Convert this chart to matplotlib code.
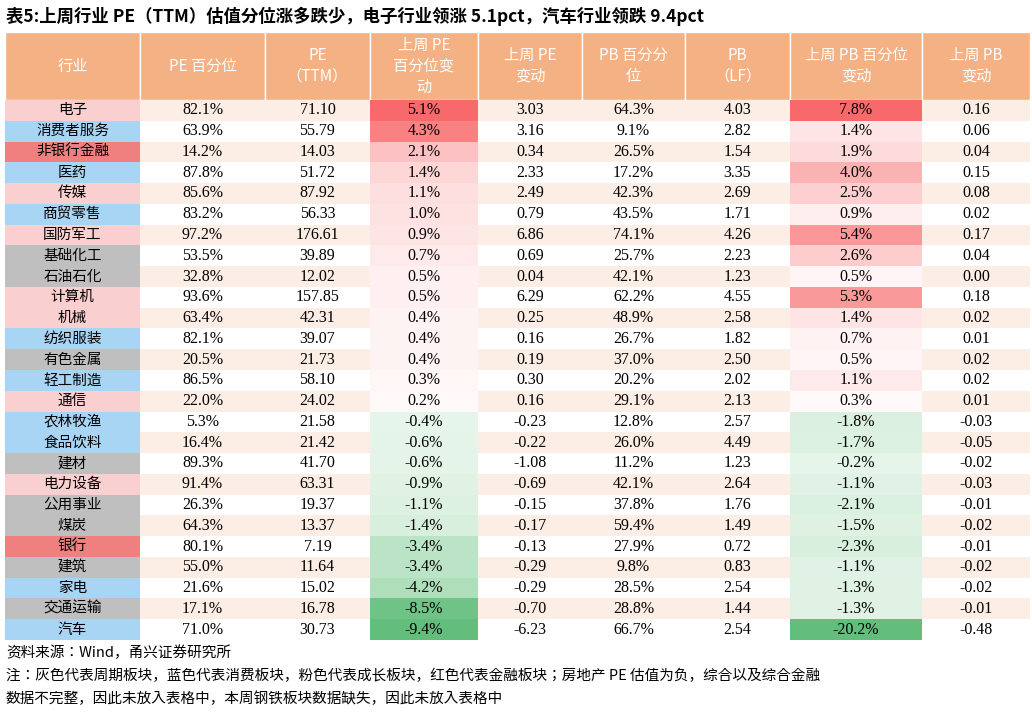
import matplotlib.pyplot as plt
from matplotlib.patches import Rectangle
import numpy as np

industries = ["电子", "消费者服务", "非银行金融", "医药", "传媒", "商贸零售", "国防军工", "基础化工",
              "石油石化", "计算机", "机械", "纺织服装", "有色金属", "轻工制造", "通信", "农林牧渔",
              "食品饮料", "建材", "电力设备", "公用事业", "煤炭", "银行", "建筑", "家电", "交通运输", "汽车"]
groups = ["p", "b", "r", "b", "p", "b", "p", "g", "g", "p", "p", "b", "g", "b", "p", "b",
          "b", "g", "p", "g", "g", "r", "g", "b", "g", "b"]
pe_pct = [82.1, 63.9, 14.2, 87.8, 85.6, 83.2, 97.2, 53.5, 32.8, 93.6, 63.4, 82.1, 20.5, 86.5, 22.0, 5.3,
          16.4, 89.3, 91.4, 26.3, 64.3, 80.1, 55.0, 21.6, 17.1, 71.0]
pe_ttm = [71.10, 55.79, 14.03, 51.72, 87.92, 56.33, 176.61, 39.89, 12.02, 157.85, 42.31, 39.07, 21.73,
          58.10, 24.02, 21.58, 21.42, 41.70, 63.31, 19.37, 13.37, 7.19, 11.64, 15.02, 16.78, 30.73]
pe_pct_chg = [5.1, 4.3, 2.1, 1.4, 1.1, 1.0, 0.9, 0.7, 0.5, 0.5, 0.4, 0.4, 0.4, 0.3, 0.2, -0.4,
              -0.6, -0.6, -0.9, -1.1, -1.4, -3.4, -3.4, -4.2, -8.5, -9.4]
pe_chg = [3.03, 3.16, 0.34, 2.33, 2.49, 0.79, 6.86, 0.69, 0.04, 6.29, 0.25, 0.16, 0.19, 0.30, 0.16, -0.23,
          -0.22, -1.08, -0.69, -0.15, -0.17, -0.13, -0.29, -0.29, -0.70, -6.23]
pb_pct = [64.3, 9.1, 26.5, 17.2, 42.3, 43.5, 74.1, 25.7, 42.1, 62.2, 48.9, 26.7, 37.0, 20.2, 29.1, 12.8,
          26.0, 11.2, 42.1, 37.8, 59.4, 27.9, 9.8, 28.5, 28.8, 66.7]
pb_lf = [4.03, 2.82, 1.54, 3.35, 2.69, 1.71, 4.26, 2.23, 1.23, 4.55, 2.58, 1.82, 2.50, 2.02, 2.13, 2.57,
         4.49, 1.23, 2.64, 1.76, 1.49, 0.72, 0.83, 2.54, 1.44, 2.54]
pb_pct_chg = [7.8, 1.4, 1.9, 4.0, 2.5, 0.9, 5.4, 2.6, 0.5, 5.3, 1.4, 0.7, 0.5, 1.1, 0.3, -1.8,
              -1.7, -0.2, -1.1, -2.1, -1.5, -2.3, -1.1, -1.3, -1.3, -20.2]
pb_chg = [0.16, 0.06, 0.04, 0.15, 0.08, 0.02, 0.17, 0.04, 0.00, 0.18, 0.02, 0.01, 0.02, 0.02, 0.01, -0.03,
          -0.05, -0.02, -0.03, -0.01, -0.02, -0.01, -0.02, -0.02, -0.01, -0.48]
headers = ["行业", "PE 百分位", "PE\n（TTM）", "上周 PE\n百分位变\n动", "上周 PE\n变动",
           "PB 百分分\n位", "PB\n（LF）", "上周 PB 百分位\n变动", "上周 PB\n变动"]

CJK = ["Noto Sans CJK SC", "Noto Sans CJK JP", "Noto Sans CJK TC", "DejaVu Sans"]
SERIF = "Liberation Serif"
group_colors = {"p": "#F9CFCF", "b": "#A9D5F5", "r": "#F07F7F", "g": "#BFBFBF"}

xs = [5, 140, 265, 370, 478, 582, 685, 790, 922, 1030]
top, head_bot, bot = 32, 100, 640
rh = (bot - head_bot) / len(industries)

def heat(v, vmax, vmin):
    if v >= 0:
        t = v / vmax
        c = np.array([248, 105, 107]) / 255
    else:
        t = min(1, 0.12 + 0.88 * v / vmin) if vmin > -15 else min(1, 0.15 + 0.85 * v / vmin)
        c = np.array([99, 190, 123]) / 255
    return tuple(1 - t * (1 - c))

fig = plt.figure(figsize=(10.32, 7.13), dpi=100)
ax = fig.add_axes([0, 0, 1, 1])
ax.set_xlim(0, 1032)
ax.set_ylim(713, 0)
ax.axis("off")

ax.text(6, 16, "表5:上周行业 PE（TTM）估值分位涨多跌少，电子行业领涨 5.1pct，汽车行业领跌 9.4pct",
        fontfamily=CJK, fontweight="bold", fontsize=12.5, va="center", ha="left")

# header
for i, h in enumerate(headers):
    ax.add_patch(Rectangle((xs[i], top), xs[i + 1] - xs[i], head_bot - top,
                           fc="#F4B183", ec="white", lw=1))
    ax.text((xs[i] + xs[i + 1]) / 2, (top + head_bot) / 2, h, color="white", fontfamily=CJK,
            fontsize=11, ha="center", va="center", linespacing=1.3)

for r, name in enumerate(industries):
    y0 = head_bot + r * rh
    yc = y0 + rh / 2
    bg = "#FCEDE5" if r % 2 == 0 else "white"
    ax.add_patch(Rectangle((xs[0], y0), xs[-1] - xs[0], rh, fc=bg, ec="none"))
    ax.add_patch(Rectangle((xs[0], y0), xs[1] - xs[0], rh, fc=group_colors[groups[r]], ec="none"))
    ax.add_patch(Rectangle((xs[3], y0), xs[4] - xs[3], rh, fc=heat(pe_pct_chg[r], 5.1, -9.4), ec="none"))
    ax.add_patch(Rectangle((xs[7], y0), xs[8] - xs[7], rh, fc=heat(pb_pct_chg[r], 7.8, -20.2), ec="none"))
    ax.text((xs[0] + xs[1]) / 2, yc, name, fontfamily=CJK, fontsize=10.5, ha="center", va="center")
    vals = [f"{pe_pct[r]:.1f}%", f"{pe_ttm[r]:.2f}", f"{pe_pct_chg[r]:.1f}%", f"{pe_chg[r]:.2f}",
            f"{pb_pct[r]:.1f}%", f"{pb_lf[r]:.2f}", f"{pb_pct_chg[r]:.1f}%", f"{pb_chg[r]:.2f}"]
    for c, v in enumerate(vals):
        ax.text((xs[c + 1] + xs[c + 2]) / 2, yc, v, fontfamily=SERIF, fontsize=11.5,
                ha="center", va="center")

notes = ["资料来源：Wind，甬兴证券研究所",
         "注：灰色代表周期板块，蓝色代表消费板块，粉色代表成长板块，红色代表金融板块；房地产 PE 估值为负，综合以及综合金融",
         "数据不完整，因此未放入表格中，本周钢铁板块数据缺失，因此未放入表格中"]
for i, n in enumerate(notes):
    ax.text(6, 653 + i * 23, n, fontfamily=CJK, fontsize=10.5, style="italic", ha="left", va="center")

fig.savefig("out.png", dpi=100)
